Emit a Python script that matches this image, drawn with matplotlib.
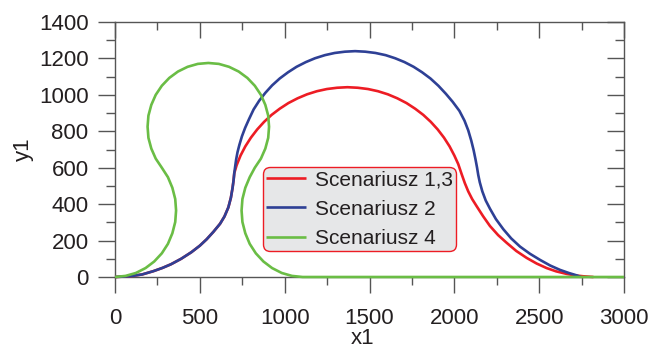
import matplotlib
matplotlib.use("Agg")
import matplotlib.pyplot as plt
from matplotlib.ticker import MultipleLocator

plt.rcParams['font.family'] = ['Liberation Sans', 'DejaVu Sans']

# ---- data ----
red_x = [0, 88, 160, 226, 280, 330, 390, 450, 500, 540, 580, 619, 645, 668, 683, 693, 699, 703,
         717, 740, 768, 801, 838, 879, 923, 971, 1022, 1076, 1132, 1190, 1249, 1309, 1370,
         1431, 1491, 1550, 1608, 1664, 1718, 1769, 1817, 1861, 1902, 1939, 1972, 2000, 2023,
         2043, 2062, 2082, 2105, 2132, 2170, 2210, 2258, 2308, 2365, 2426, 2485,
         2544, 2600, 2662, 2710, 2760, 2820]
red_y = [0, 4, 14, 32, 50, 70, 100, 136, 172, 207, 248, 292, 332, 382, 435, 490, 532, 570,
         614, 667, 717, 765, 810, 852, 890, 924, 955, 981, 1003, 1020, 1032, 1039, 1042,
         1039, 1032, 1020, 1003, 981, 955, 924, 890, 852, 810, 765, 717, 667, 620,
         565, 515, 470, 428, 388, 333, 280, 230, 188, 143, 105, 74,
         49, 31, 17, 9, 4, 0]

blue_x = [0, 88, 160, 226, 280, 330, 390, 450, 500, 540, 580, 619, 645, 668, 683, 693, 699, 703,
          708, 714, 722, 733, 748, 767, 790, 817, 850, 886, 926, 971, 1020, 1070, 1125, 1179,
          1237, 1295, 1355, 1415, 1475, 1535, 1595, 1651, 1706, 1760, 1810, 1859, 1906, 1950,
          1990, 2030, 2060, 2082, 2100, 2114, 2125, 2134, 2141, 2150, 2165, 2185, 2210, 2245,
          2289, 2335, 2387, 2445, 2505, 2565, 2623, 2675, 2721, 2745]
blue_y = [0, 4, 14, 32, 50, 70, 100, 136, 172, 207, 248, 292, 332, 382, 435, 490, 532, 570,
          605, 645, 685, 725, 772, 819, 867, 920, 968, 1011, 1052, 1090, 1124, 1154, 1180, 1201,
          1218, 1230, 1237, 1240, 1237, 1230, 1218, 1201, 1180, 1154, 1124, 1090, 1050, 1006,
          962, 912, 858, 805, 748, 695, 645, 600, 560, 520, 470, 420, 375, 318,
          262, 212, 167, 128, 94, 63, 39, 22, 9, 0]

green_x = [0, 62, 123, 180, 231, 276, 312, 338, 355, 360, 355, 338, 312, 276,
           240, 214, 197, 192, 197, 214, 240, 276, 320, 371, 428, 488, 550, 612, 672, 729,
           780, 824, 860, 886, 903, 908, 903, 886, 860, 824,
           794, 768, 751, 746, 751, 768, 794, 830, 875, 926, 983, 1043, 1106, 3000]
green_y = [0, 6, 22, 49, 85, 130, 182, 240, 302, 365, 428, 490, 548, 600,
           650, 705, 764, 825, 886, 945, 1000, 1050, 1093, 1128, 1154, 1170, 1175, 1170, 1154, 1128,
           1093, 1050, 1000, 945, 886, 825, 764, 705, 650, 600,
           548, 490, 428, 365, 302, 240, 182, 130, 85, 49, 22, 6, 0, 0]

labels = ["Scenariusz 1,3", "Scenariusz 2", "Scenariusz 4"]
colors = ["#ed1c24", "#2e4095", "#6abd45"]

x_ticks = [0, 500, 1000, 1500, 2000, 2500, 3000]
y_ticks = [0, 200, 400, 600, 800, 1000, 1200, 1400]

# ---- figure ----
fig = plt.figure(figsize=(6.53, 3.51), dpi=100)
ax = fig.add_axes([115/653, 1 - 277/351, (624-115)/653, (277-22)/351])

series = [(red_x, red_y), (blue_x, blue_y), (green_x, green_y)]
for (xs, ys), c, lab in zip(series, colors, labels):
    ax.plot(xs, ys, color=c, lw=1.9, label=lab, zorder=3, clip_on=False,
            solid_joinstyle='round', solid_capstyle='butt')

ax.set_xlim(0, 3000)
ax.set_ylim(0, 1400)
ax.set_xticks(x_ticks)
ax.set_yticks(y_ticks)
ax.xaxis.set_minor_locator(MultipleLocator(250))
ax.yaxis.set_minor_locator(MultipleLocator(100))

tick_col = '#555555'
txt_col = '#231f20'
for s in ax.spines.values():
    s.set_color(tick_col)
    s.set_linewidth(1.0)
ax.spines['top'].set_visible(False)
ax.spines['right'].set_visible(False)

ax.tick_params(axis='x', which='major', direction='out', length=11.5, width=1.0,
               color=tick_col, labelsize=16, labelcolor=txt_col, pad=10.5)
ax.tick_params(axis='x', which='minor', direction='out', length=5.8, width=1.0, color=tick_col)
ax.tick_params(axis='y', which='major', direction='out', length=12, width=1.0,
               color=tick_col, labelsize=16, labelcolor=txt_col, pad=7)
ax.tick_params(axis='y', which='minor', direction='out', length=6.3, width=1.0, color=tick_col)

secx = ax.secondary_xaxis('top')
secx.set_xticks(x_ticks)
secx.xaxis.set_minor_locator(MultipleLocator(250))
secx.tick_params(axis='x', which='major', direction='in', length=11.5, width=1.0, color=tick_col,
                 labeltop=False, labelbottom=False)
secx.tick_params(axis='x', which='minor', direction='in', length=5.8, width=1.0, color=tick_col)
secx.spines['top'].set_color(tick_col)
secx.spines['top'].set_linewidth(1.0)

secy = ax.secondary_yaxis('right')
secy.set_yticks(y_ticks)
secy.yaxis.set_minor_locator(MultipleLocator(100))
secy.tick_params(axis='y', which='major', direction='in', length=12, width=1.0, color=tick_col,
                 labelright=False, labelleft=False)
secy.tick_params(axis='y', which='minor', direction='in', length=6.3, width=1.0, color=tick_col)
secy.spines['right'].set_color(tick_col)
secy.spines['right'].set_linewidth(1.0)

ax.set_xlabel("x1", fontsize=16, color=txt_col, labelpad=0)
ax.xaxis.set_label_coords(0.487, -0.2)
ax.xaxis.label.set_va('top')
ax.set_ylabel("y1", fontsize=16, color=txt_col, labelpad=4)

leg = ax.legend(loc='upper left', bbox_to_anchor=(0.2908, 0.431), borderaxespad=0,
                fontsize=15, frameon=True, fancybox=True, borderpad=0.15,
                handlelength=1.9, handletextpad=0.45, labelspacing=0.5,
                facecolor='#e6e7e8', edgecolor='#ed1c24', framealpha=1)
leg.get_frame().set_linewidth(1.0)
leg.get_frame().set_boxstyle('round', pad=0, rounding_size=0.35)
for t in leg.get_texts():
    t.set_color(txt_col)

fig.savefig("out.png", dpi=100)
